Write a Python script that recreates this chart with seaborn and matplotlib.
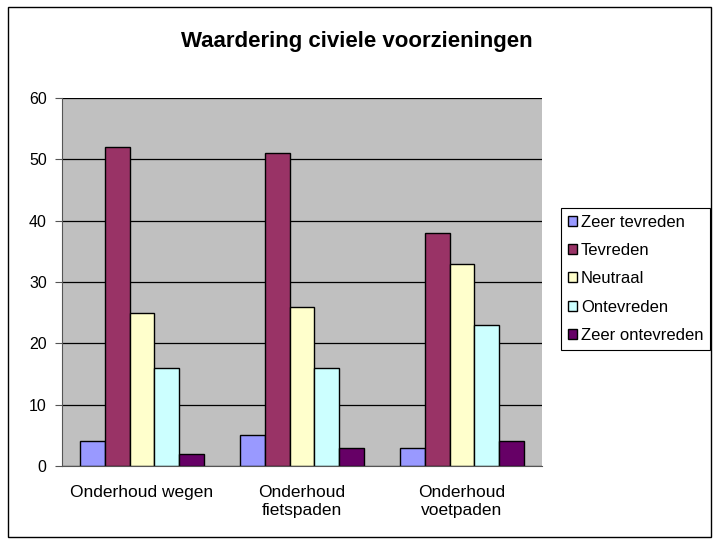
import matplotlib
matplotlib.use("Agg")
import matplotlib.pyplot as plt
import pandas as pd
import seaborn as sns
from matplotlib.patches import Rectangle

categories = ["Onderhoud wegen", "Onderhoud\nfietspaden", "Onderhoud\nvoetpaden"]
series = ["Zeer tevreden", "Tevreden", "Neutraal", "Ontevreden", "Zeer ontevreden"]
zeer_tevreden = [4, 5, 3]
tevreden = [52, 51, 38]
neutraal = [25, 26, 33]
ontevreden = [16, 16, 23]
zeer_ontevreden = [2, 3, 4]
colors = ["#9999FF", "#993366", "#FFFFCC", "#CCFFFF", "#660066"]

values = [zeer_tevreden, tevreden, neutraal, ontevreden, zeer_ontevreden]
rows = []
for s, vals in zip(series, values):
    for c, v in zip(categories, vals):
        rows.append({"categorie": c, "reeks": s, "aantal": v})
df = pd.DataFrame(rows)

sns.set_style("white")
plt.rcParams["font.family"] = ["Liberation Sans", "DejaVu Sans"]
plt.rcParams["text.color"] = "black"
plt.rcParams["xtick.color"] = "black"
plt.rcParams["ytick.color"] = "black"

fig = plt.figure(figsize=(7.14, 5.43), dpi=100)
ax = fig.add_axes([62 / 714, 1 - 466 / 543, 480 / 714, 368 / 543])
ax.set_facecolor("#C0C0C0")

sns.barplot(data=df, x="categorie", y="aantal", hue="reeks", order=categories,
            hue_order=series, palette=colors, width=0.78, edgecolor="black",
            linewidth=1, saturation=1, ax=ax, legend=True)

ax.set_ylim(0, 60)
ax.set_yticks(range(0, 61, 10))
ax.set_xlim(-0.5, 2.5)
ax.grid(axis="y", color="black", linewidth=0.9)
ax.set_axisbelow(True)
ax.set_xlabel("")
ax.set_ylabel("")
for side in ["top", "right"]:
    ax.spines[side].set_visible(False)
for side in ["left", "bottom"]:
    ax.spines[side].set_color("#555555")
ax.tick_params(axis="x", which="major", length=0, labelsize=12.5, pad=14)
ax.set_xticks([-0.5, 0.5, 1.5, 2.5], minor=True)
ax.tick_params(axis="x", which="minor", length=5, color="#555555", direction="out")
ax.tick_params(axis="y", length=5, color="#555555", labelcolor="black", direction="out",
               labelsize=11.5, left=True, pad=6)

handles, labels = ax.get_legend_handles_labels()
ax.legend_.remove()
leg = fig.legend(handles, labels, loc="upper left", bbox_to_anchor=(561 / 714, 1 - 208 / 543),
                 fancybox=False, edgecolor="black", framealpha=1, fontsize=12,
                 handlelength=0.55, handleheight=0.55, handletextpad=0.25,
                 labelspacing=0.8, borderpad=0.4, borderaxespad=0)
leg.get_frame().set_linewidth(0.8)

fig.text(0.5, 1 - 42 / 543, "Waardering civiele voorzieningen",
         ha="center", va="center", fontsize=16, fontweight="bold")

fig.patches.append(Rectangle((8 / 714, 6 / 543), 703 / 714, 530 / 543, transform=fig.transFigure,
                             fill=False, edgecolor="black", linewidth=1))

fig.savefig("out.png", dpi=100)
